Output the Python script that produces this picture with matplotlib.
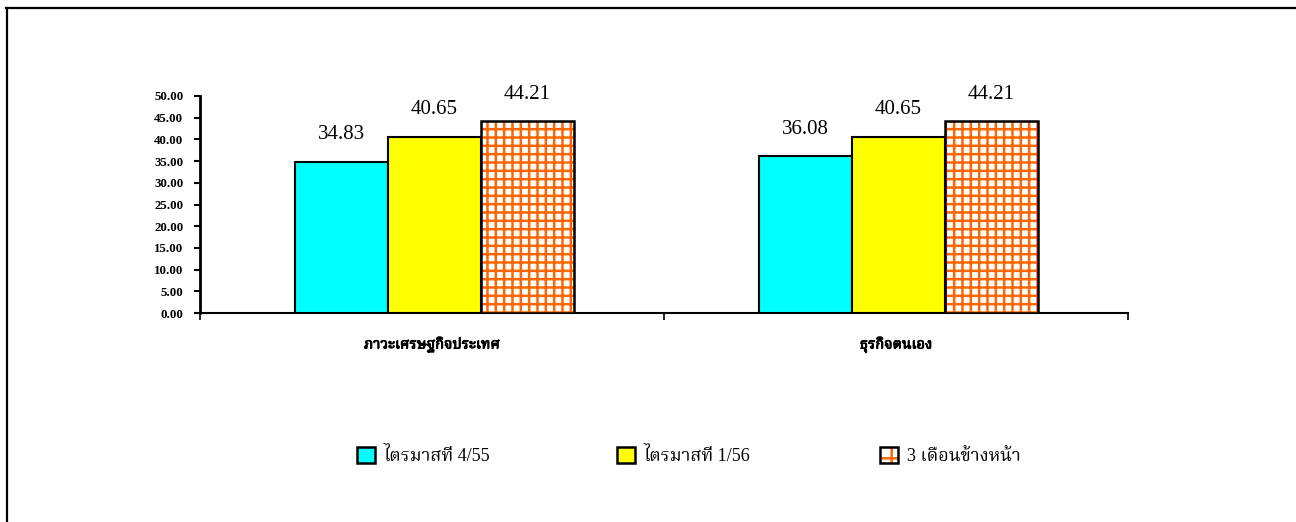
import matplotlib
matplotlib.use("Agg")
import matplotlib.pyplot as plt
import matplotlib.patheffects as pe
import numpy as np
from matplotlib import font_manager
from matplotlib.patches import Patch
from matplotlib.lines import Line2D
from matplotlib.ft2font import FT2Font

categories = ["ภาวะเศรษฐกิจประเทศ", "ธุรกิจตนเอง"]
series_names = ["ไตรมาสที่ 4/55", "ไตรมาสที่ 1/56", "3 เดือนข้างหน้า"]
q4_55 = [34.83, 36.08]
q1_56 = [40.65, 40.65]
next3m = [44.21, 44.21]
yticks = [0, 5, 10, 15, 20, 25, 30, 35, 40, 45, 50]

# find fonts with Thai glyphs, prefer serif-like ones
thai_fonts = []
for f in font_manager.fontManager.ttflist:
    try:
        cm = FT2Font(f.fname).get_charmap()
        if 0x0E44 in cm and 0x0E01 in cm:
            thai_fonts.append(f.name)
    except Exception:
        pass
prefs = ["Noto Serif Thai", "Kinnari", "Norasi", "Laksaman", "TH Sarabun New", "Sarabun",
         "Loma", "Garuda", "Noto Sans Thai"]
thai_font = None
for p in prefs:
    if p in thai_fonts:
        thai_font = p
        break
if thai_font is None and thai_fonts:
    thai_font = thai_fonts[0]
serif = ["Liberation Serif", "DejaVu Serif"]
thai_fam = ["Liberation Serif"] + ([thai_font] if thai_font else []) + ["DejaVu Serif"]

ORANGE = '#FF6600'
plt.rcParams['hatch.linewidth'] = 1.8

fig = plt.figure(figsize=(12.96, 5.22), dpi=100)
ax = fig.add_axes([200/1296, 1-313/522, 928/1296, 217/522])

x = np.arange(len(categories))
w = 0.2
data = [q4_55, q1_56, next3m]
for i, vals in enumerate(data):
    pos = x + (i - 1) * w + 0.005
    if i < 2:
        bars = ax.bar(pos, vals, w, color=['#00FFFF', '#FFFF00'][i], edgecolor='black',
                      linewidth=1.5, zorder=3)
    else:
        ax.bar(pos, vals, w, color='white', edgecolor=ORANGE, linewidth=0, hatch='++', zorder=3)
        bars = ax.bar(pos, vals, w, fill=False, edgecolor='black', linewidth=1.8, zorder=4)
    for b, v in zip(bars, vals):
        ax.text(b.get_x() + b.get_width() / 2, v + 4.0, f"{v:.2f}", ha='center',
                va='bottom', fontsize=15, family=serif)

ax.set_xlim(-0.5, 1.5)
ax.set_ylim(0, 50)
ax.set_yticks(yticks)
ax.set_yticklabels([f"{t:.2f}" for t in yticks], fontsize=9.3, fontweight='bold', family=serif)
ax.set_xticks(x)
ax.set_xticklabels(categories, fontsize=10.5, fontweight='bold', family=thai_fam)
for lbl in ax.get_xticklabels():
    lbl.set_path_effects([pe.withStroke(linewidth=0.7, foreground='black')])
ax.set_xticks([-0.5, 0.5, 1.5], minor=True)
ax.tick_params(axis='x', which='major', length=0, pad=17)
ax.tick_params(axis='x', which='minor', length=5, width=1.2, direction='out')
ax.tick_params(axis='y', length=4, width=1.5, direction='out', pad=8)
for s in ['top', 'right']:
    ax.spines[s].set_visible(False)
ax.spines['left'].set_linewidth(2)
ax.spines['bottom'].set_linewidth(1.5)

handles = [
    Patch(facecolor='#00FFFF', edgecolor='black', linewidth=1.8),
    Patch(facecolor='#FFFF00', edgecolor='black', linewidth=1.8),
    (Patch(facecolor='white', edgecolor=ORANGE, linewidth=0, hatch='+'),
     Patch(fill=False, edgecolor='black', linewidth=1.8)),
]
starts = [357, 617, 880]
for hnd, name, sx in zip(handles, series_names, starts):
    fig.legend([hnd], [name], loc='center left', bbox_to_anchor=(sx/1296, 1-456/522),
               frameon=False, prop={'family': thai_fam, 'size': 13},
               handlelength=1.0, handleheight=1.0, handletextpad=0.5,
               borderpad=0, borderaxespad=0)

fig.add_artist(Line2D([6/1296, 1.0], [1-8/522, 1-8/522], transform=fig.transFigure,
                      color='black', linewidth=1.6))
fig.add_artist(Line2D([7/1296, 7/1296], [1-8/522, 0.0], transform=fig.transFigure,
                      color='black', linewidth=1.6))
fig.savefig("out.png", dpi=100)
